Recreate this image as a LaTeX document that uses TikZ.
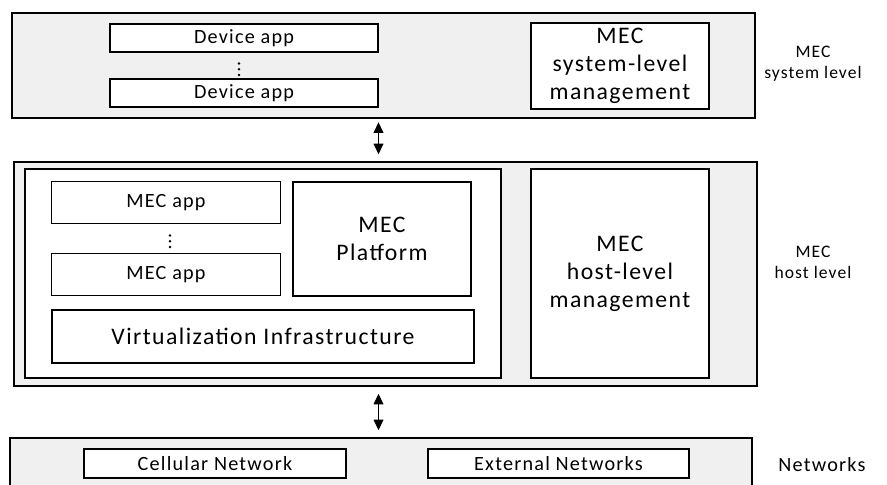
\documentclass[tikz,border=0pt]{standalone}
\usepackage{fontspec}
\setmainfont{Carlito}[LetterSpace=6]
\usetikzlibrary{arrows.meta}

\tikzset{
    layer/.style = {draw = black, fill = gray!12, line width = 0.8pt, inner sep = 0pt},
    box/.style = {draw = black, fill = white, line width = 0.7pt, inner sep = 0pt, align = center},
    small/.style = {font = \fontsize{11.5}{13}\selectfont},
    big/.style = {font = \fontsize{13.5}{16}\selectfont},
    side/.style = {align = center, font = \fontsize{10}{12}\selectfont},
    link/.style = {{Triangle[length=6pt,width=5.5pt]}-{Triangle[length=6pt,width=5.5pt]}, line width = 0.7pt}
}

\begin{document}
\begin{tikzpicture}

    \clip (0,0) rectangle (17.74,-9.7);
    \useasboundingbox (0,0) rectangle (17.74,-9.7);

    % system level
    \node[layer,
    minimum width = 14.86cm,
    minimum height = 2.1cm] (sys) at (7.67,-1.31) {};

    \node[box, small,
    minimum width = 5.36cm,
    minimum height = 0.56cm] (dev1) at (4.88,-0.76) {Device app};

    \node[box, small,
    minimum width = 5.36cm,
    minimum height = 0.56cm] (dev2) at (4.88,-1.86) {Device app};

    \foreach \d in {0,1,2}
      \fill (4.78,-1.27-\d*0.115) circle (0.85pt);

    \node[box, big,
    minimum width = 3.56cm,
    minimum height = 1.72cm] (sysmgmt) at (12.4,-1.32) {MEC\\system-level\\management};

    \node[side] (syslabel) at (16.26,-1.27) {MEC\\system level};

    % host level
    \node[layer,
    minimum width = 14.86cm,
    minimum height = 4.48cm] (host) at (7.71,-5.48) {};

    \node[box,
    minimum width = 9.52cm,
    minimum height = 4.18cm] (mechost) at (5.26,-5.47) {};

    \node[box, small,
    minimum width = 4.58cm,
    minimum height = 0.84cm] (app1) at (3.32,-4.05) {MEC app};

    \node[box, small,
    minimum width = 4.58cm,
    minimum height = 0.84cm] (app2) at (3.32,-5.49) {MEC app};

    \foreach \d in {0,1,2}
      \fill (3.40,-4.71-\d*0.115) circle (0.85pt);

    \node[box, big,
    minimum width = 3.56cm,
    minimum height = 2.28cm] (platform) at (7.64,-4.78) {MEC\\Platform};

    \node[box, big,
    minimum width = 8.44cm,
    minimum height = 1.06cm] (virt) at (5.26,-6.73) {Virtualization Infrastructure};

    \node[box, big,
    minimum width = 3.56cm,
    minimum height = 4.18cm] (hostmgmt) at (12.4,-5.47) {MEC\\host-level\\management};

    \node[side] (hostlabel) at (16.26,-5.25) {MEC\\host level};

    % networks
    \node[layer,
    minimum width = 14.84cm,
    minimum height = 1.24cm] (net) at (7.62,-9.38) {};

    \node[box, small,
    minimum width = 5.24cm,
    minimum height = 0.58cm] (cell) at (4.30,-9.27) {Cellular Network};

    \node[box, small,
    minimum width = 5.22cm,
    minimum height = 0.58cm] (ext) at (11.17,-9.27) {External Networks};

    \node[side, small] (netlabel) at (16.44,-9.30) {Networks};

    \coordinate (ax) at (7.57,0);

      \draw[link, shorten <= 2pt, shorten >= 4pt] (sys.south -| ax) to (host.north -| ax);
      \draw[link, shorten <= 4pt, shorten >= 4pt] (host.south -| ax) to (net.north -| ax);
  \end{tikzpicture}
\end{document}
